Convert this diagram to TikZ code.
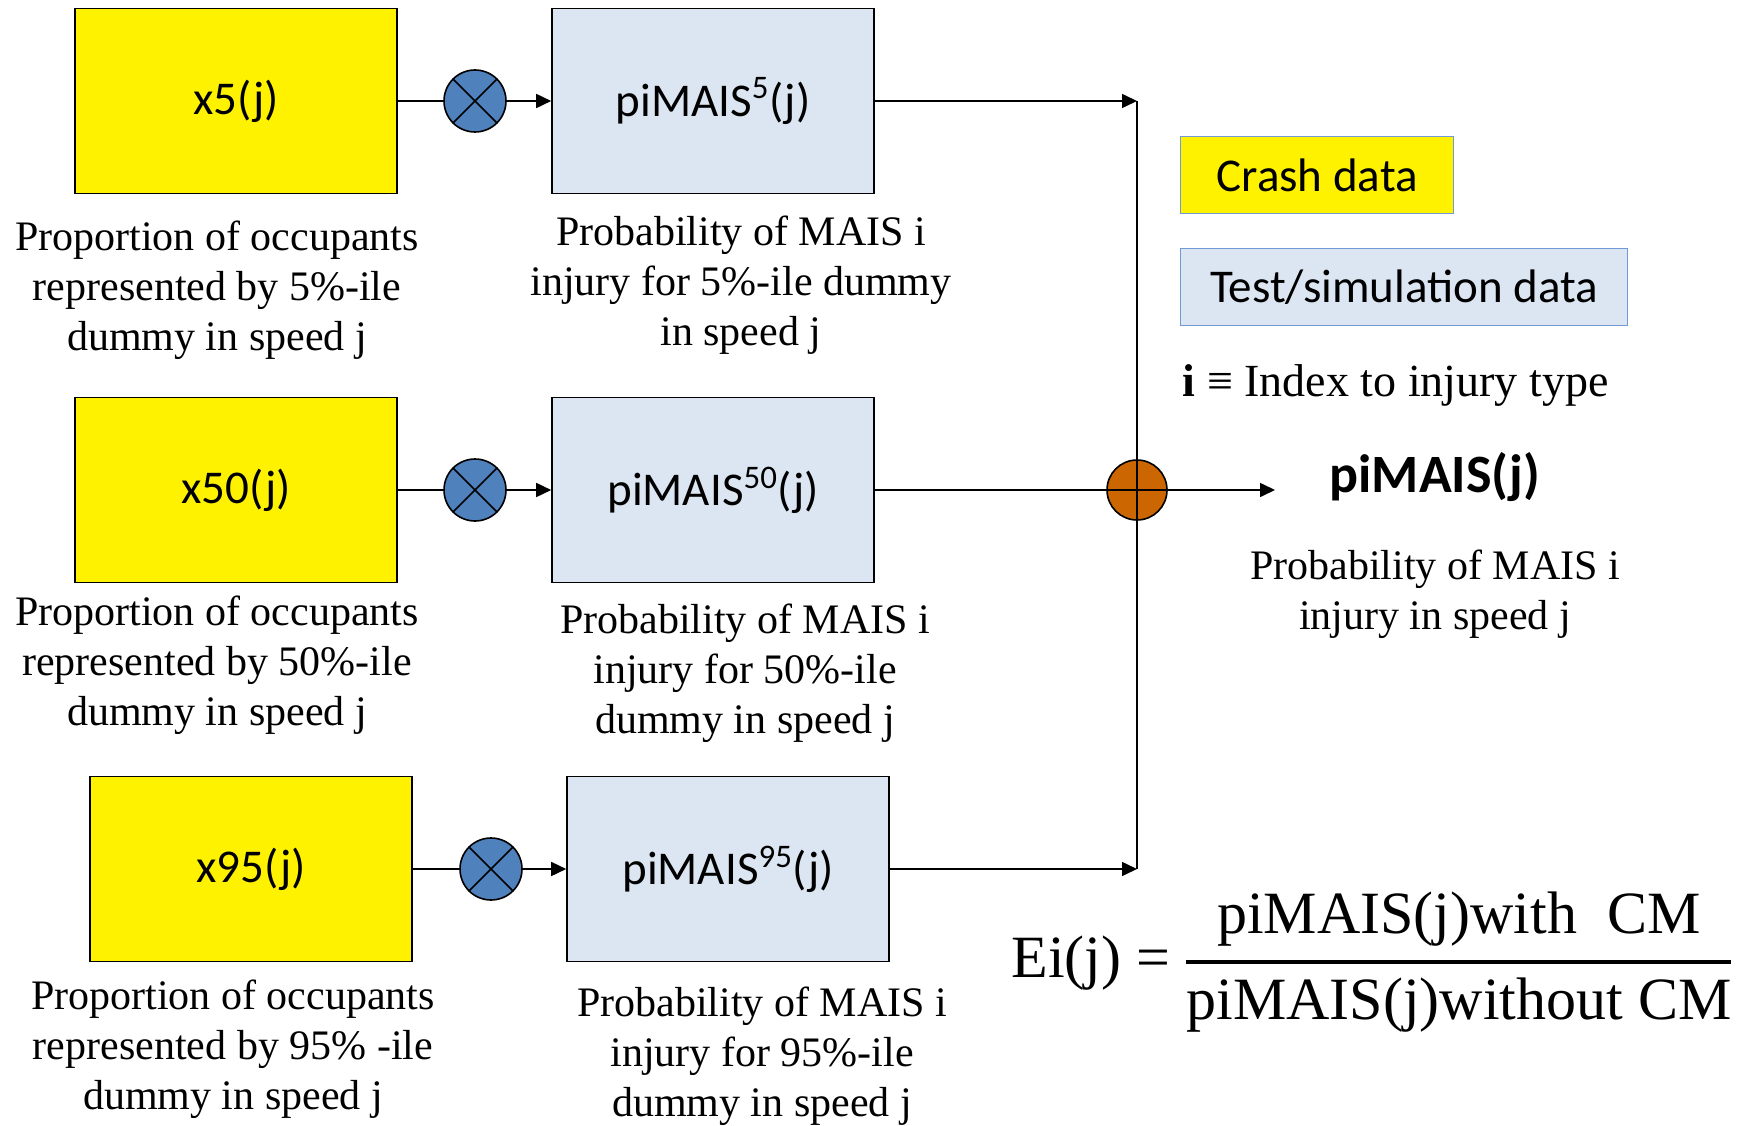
\documentclass[tikz,border=0pt]{standalone}
\usepackage{fix-cm}
\usepackage{fontspec}
\setmainfont{Liberation Serif}
\newfontfamily\boxfont{Carlito}
\usetikzlibrary{positioning,arrows.meta}

\definecolor{simblue}{HTML}{DCE6F2}
\definecolor{multblue}{HTML}{4F81BD}
\definecolor{sumorange}{HTML}{CC6600}
\definecolor{legendblue}{HTML}{6F9AD6}

\begin{document}
\begin{tikzpicture}[x=1pt,y=-1pt,>={Triangle[length=15pt,width=14pt]},on grid,line width=1.6pt]
	\tikzstyle{crash}=[rectangle,draw=black,fill=yellow,minimum width=322pt,minimum height=185pt,font=\boxfont\fontsize{47}{56}\selectfont]
	\tikzstyle{sim}=[crash,fill=simblue]
	\tikzstyle{multiplier}=[circle,draw=black,fill=multblue,minimum size=62pt,inner sep=0pt]
	\tikzstyle{adder}=[circle,draw=black,fill=sumorange,minimum size=60pt,inner sep=0pt]
	\tikzstyle{desc}=[align=center,font=\fontsize{42}{50}\selectfont]
	\tikzstyle{legendbox}=[draw=legendblue,line width=1.2pt,anchor=west,minimum height=77pt,font=\boxfont\fontsize{47}{56}\selectfont]

	\useasboundingbox (0,0) rectangle (1756,1126);

	% three dummy rows
	\node[crash] (X5) at (236,101) {x5(j)};
	\node[multiplier] (M5) [right=239pt of X5] {};
	\node[sim] (P5) [right=238pt of M5] {piMAIS\textsuperscript{5}(j)};
	\node[crash] (X50) [below=389pt of X5] {x50(j)};
	\node[multiplier] (M50) [right=239pt of X50] {};
	\node[sim] (P50) [right=238pt of M50] {piMAIS\textsuperscript{50}(j)};
	\node[crash] (X95) [below right=379pt and 15pt of X50] {x95(j)};
	\node[multiplier] (M95) [right=240pt of X95] {};
	\node[sim] (P95) [right=237pt of M95] {piMAIS\textsuperscript{95}(j)};
	\node[adder] (ADD) [right=424pt of P50] {};
	\coordinate[right=138pt of ADD] (OUT);

	\node[desc] (D5) [below left=189pt and 19pt of X5] {Proportion of occupants\\represented by 5\%-ile\\dummy in speed j};
	\node[desc] (Q5) [below right=184pt and 28pt of P5] {Probability of MAIS i\\injury for 5\%-ile dummy\\in speed j};
	\node[desc] (D50) [below left=175pt and 19pt of X50] {Proportion of occupants\\represented by 50\%-ile\\dummy in speed j};
	\node[desc] (Q50) [below right=183pt and 32pt of P50] {Probability of MAIS i\\injury for 50\%-ile\\dummy in speed j};
	\node[desc] (D95) [below left=180pt and 18pt of X95] {Proportion of occupants\\represented by 95\% -ile\\dummy in speed j};
	\node[desc] (Q95) [below right=187pt and 34pt of P95] {Probability of MAIS i\\injury for 95\%-ile\\dummy in speed j};

	% output and legend
	\node[font=\boxfont\bfseries\fontsize{54}{60}\selectfont] (OUTLBL) [above right=13pt and 298pt of ADD] {piMAIS(j)};
	\node[desc] (OUTDESC) [below=117pt of OUTLBL] {Probability of MAIS i\\injury in speed j};
	\node[legendbox,fill=yellow,minimum width=273pt] (CRASH) at (1180,175) {Crash data};
	\node[legendbox,fill=simblue,minimum width=447pt] (TEST) at (1180,287) {Test/simulation data};
	\node[anchor=west,inner sep=0pt,font=\fontsize{46}{50}\selectfont] (INDEX) at (1182,386) {\textbf{i} ≡ Index to injury type};
	\node[font=\fontsize{60}{64}\selectfont] (EFF) [below left=485pt and 63pt of OUTLBL] {Ei(j) = $\displaystyle{\mbox{piMAIS(j)with\ \ CM}\above 4.5pt\mbox{piMAIS(j)without CM}}$};

	\path	(X5) edge (M5)
			(M5) edge[->] (P5)
			(P5) edge[->] (P5 -| ADD)
			(P5 -| ADD) edge (ADD)
			(X50) edge (M50)
			(M50) edge[->] (P50)
			(P50) edge (ADD)
			(X95) edge (M95)
			(M95) edge[->] (P95)
			(P95) edge[->] (P95 -| ADD)
			(P95 -| ADD) edge (ADD)
			(ADD) edge[->] (OUT);

	% crosses inside the circles
	\foreach \m in {M5,M50,M95}
		\draw (\m.north west) -- (\m.south east) (\m.north east) -- (\m.south west);
	\draw (ADD.north) -- (ADD.south) (ADD.west) -- (ADD.east);

\end{tikzpicture}
\end{document}
